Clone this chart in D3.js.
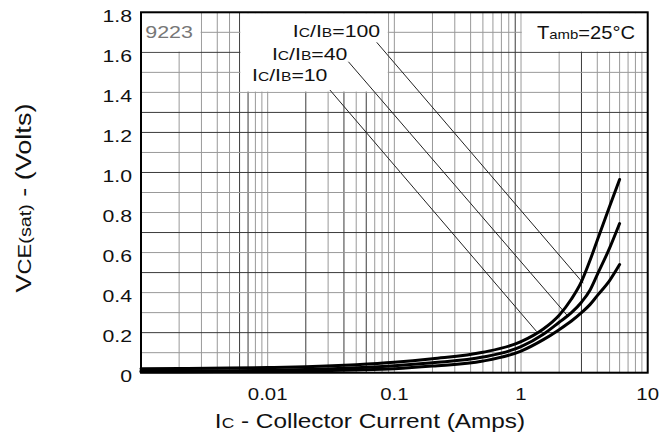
<!DOCTYPE html>
<html><head><meta charset="utf-8">
<script src="https://cdn.jsdelivr.net/npm/d3@7"></script>
<style>body{margin:0;background:#fff;} svg{display:block;} text{font-family:"Liberation Sans",Arial,Helvetica,sans-serif;fill:#111;}</style>
</head><body><svg id="c" width="662" height="442"></svg>
<script>
// ---- data ----
const currents = [0.001,0.002,0.005,0.01,0.02,0.05,0.1,0.2,0.5,1,1.5,2,2.5,3,3.5,4,5,6];
const vce100 = [0.020,0.021,0.023,0.026,0.030,0.040,0.052,0.070,0.102,0.155,0.218,0.287,0.368,0.455,0.560,0.662,0.830,0.965];
const vce40  = [0.008,0.009,0.010,0.012,0.016,0.025,0.035,0.050,0.078,0.130,0.192,0.252,0.300,0.352,0.412,0.490,0.622,0.745];
const vce10  = [0.005,0.005,0.006,0.007,0.009,0.014,0.020,0.033,0.058,0.108,0.165,0.215,0.258,0.300,0.340,0.385,0.460,0.540];
const xTickValues = [0.01,0.1,1,10];
const xTickLabels = ["0.01","0.1","1","10"];
const yTickValues = [0,0.2,0.4,0.6,0.8,1.0,1.2,1.4,1.6,1.8];
const yTickLabels = ["0","0.2","0.4","0.6","0.8","1.0","1.2","1.4","1.6","1.8"];
const ratioNames = ["100","40","10"];
// annotation anchors in data units: text start [A, V], leader start [A, V], leader end [A, V]
const ratioTextAt   = [[0.0158,1.678],[0.0108,1.562],[0.00752,1.459]];
const leaderFrom    = [[0.0726,1.65],[0.0434,1.553],[0.031,1.412]];
const leaderTo      = [[3.1,0.447],[2.36,0.28],[1.33,0.205]];
// white label boxes in data units [x0, x1, y0, y1]
const boxes = [[0.001,0.003,1.6,1.8],[0.006,0.09,1.4,1.8],[1,10,1.6,1.8]];
const codeLabel = "9223";
const tempLabel = ["T","amb","=25°C"];

// ---- scales ----
const svg = d3.select("#c");
const x = d3.scaleLog().domain([0.001,10]).range([141,647.7]);
const y = d3.scaleLinear().domain([0,1.8]).range([372.7,12.3]);

// ---- grid ----
const xGrid = [];
[0.001,0.01,0.1,1].forEach(d=>{for(let k=1;k<=9;k++) xGrid.push(+(d*k).toPrecision(3));});
xGrid.push(10);
const yGrid = d3.range(0,19).map(i=>+(i/10).toFixed(1));
const darkX = new Set([0.006,0.007,0.02,0.04,0.06,0.9,3]);
const darkY = new Set([0.2,0.5,0.7,1.0,1.2,1.3,1.6]);
const g = svg.append("g");
g.selectAll("line.vx").data(xGrid).join("line")
  .attr("x1",d=>x(d)).attr("x2",d=>x(d)).attr("y1",y(0)).attr("y2",y(1.8))
  .attr("stroke",d=>darkX.has(d)?"#3a3a3a":"#999").attr("stroke-width",1);
g.selectAll("line.hy").data(yGrid).join("line")
  .attr("y1",d=>y(d)).attr("y2",d=>y(d)).attr("x1",x(0.001)).attr("x2",x(10))
  .attr("stroke",d=>darkY.has(d)?"#3a3a3a":"#999").attr("stroke-width",1);

// ---- boxes (hide grid inside) ----
svg.selectAll("rect.box").data(boxes).join("rect")
  .attr("x",d=>x(d[0])+0.8).attr("y",d=>y(d[3])+0.8)
  .attr("width",d=>x(d[1])-x(d[0])-1.6).attr("height",d=>y(d[2])-y(d[3])-1.6)
  .attr("fill","#fff");

// ---- frame ----
svg.append("rect").attr("x",x(0.001)).attr("y",y(1.8))
  .attr("width",x(10)-x(0.001)).attr("height",y(0)-y(1.8))
  .attr("fill","none").attr("stroke","#000").attr("stroke-width",2);

// ---- leader lines ----
svg.selectAll("line.lead").data(d3.range(3)).join("line")
  .attr("x1",i=>x(leaderFrom[i][0])).attr("y1",i=>y(leaderFrom[i][1]))
  .attr("x2",i=>x(leaderTo[i][0])).attr("y2",i=>y(leaderTo[i][1]))
  .attr("stroke","#222").attr("stroke-width",1);

// ---- curves ----
const line = d3.line().x(d=>x(d[0])).y(d=>y(d[1])).curve(d3.curveMonotoneX);
[vce100,vce40,vce10].forEach(s=>{
  svg.append("path").datum(currents.map((c,i)=>[c,s[i]]))
    .attr("d",line).attr("fill","none").attr("stroke","#000")
    .attr("stroke-width",3).attr("stroke-linecap","round");
});

// ---- text helper ----
function txt(px,py,sx,anchor,rot){
  return svg.append("text")
    .attr("transform",`translate(${px},${py})${rot?` rotate(${rot})`:""} scale(${sx},1)`)
    .attr("text-anchor",anchor||"start");
}

// y ticks
yTickValues.forEach((v,i)=>{
  txt(132,y(v)+9.5,1.25,"end").attr("font-size",17).text(yTickLabels[i]);
});
// x ticks
xTickValues.forEach((v,i)=>{
  txt(x(v),400,1.2,"middle").attr("font-size",17).text(xTickLabels[i]);
});
// x title
{
  const t = txt(370,428,1.16,"middle").attr("font-size",21);
  t.append("tspan").text("I");
  t.append("tspan").attr("font-size",15).text("C");
  t.append("tspan").text(" - Collector Current (Amps)");
}
// y title
{
  const t = txt(31,198,1.23,"middle",-90).attr("font-size",22);
  t.append("tspan").text("V");
  t.append("tspan").attr("font-size",18).text("CE");
  t.append("tspan").attr("font-size",16).text("(sat)");
  t.append("tspan").text(" - (Volts)");
}
// ratio labels
ratioNames.forEach((n,i)=>{
  const t = txt(x(ratioTextAt[i][0]),y(ratioTextAt[i][1]),1.25,"start").attr("font-size",17);
  t.append("tspan").text("I");
  t.append("tspan").attr("font-size",12.5).text("C");
  t.append("tspan").text("/I");
  t.append("tspan").attr("font-size",12.5).text("B");
  t.append("tspan").text("="+n);
});
// temperature
{
  const t = txt(x(1.337),y(1.665),1.15,"start").attr("font-size",17.5);
  t.append("tspan").text(tempLabel[0]);
  t.append("tspan").attr("font-size",13).text(tempLabel[1]);
  t.append("tspan").text(tempLabel[2]);
}
// code label
txt(x(0.00108),y(1.672),1.3,"start").attr("font-size",16.5).style("fill","#777").attr("font-weight",300).text(codeLabel);
</script></body></html>
